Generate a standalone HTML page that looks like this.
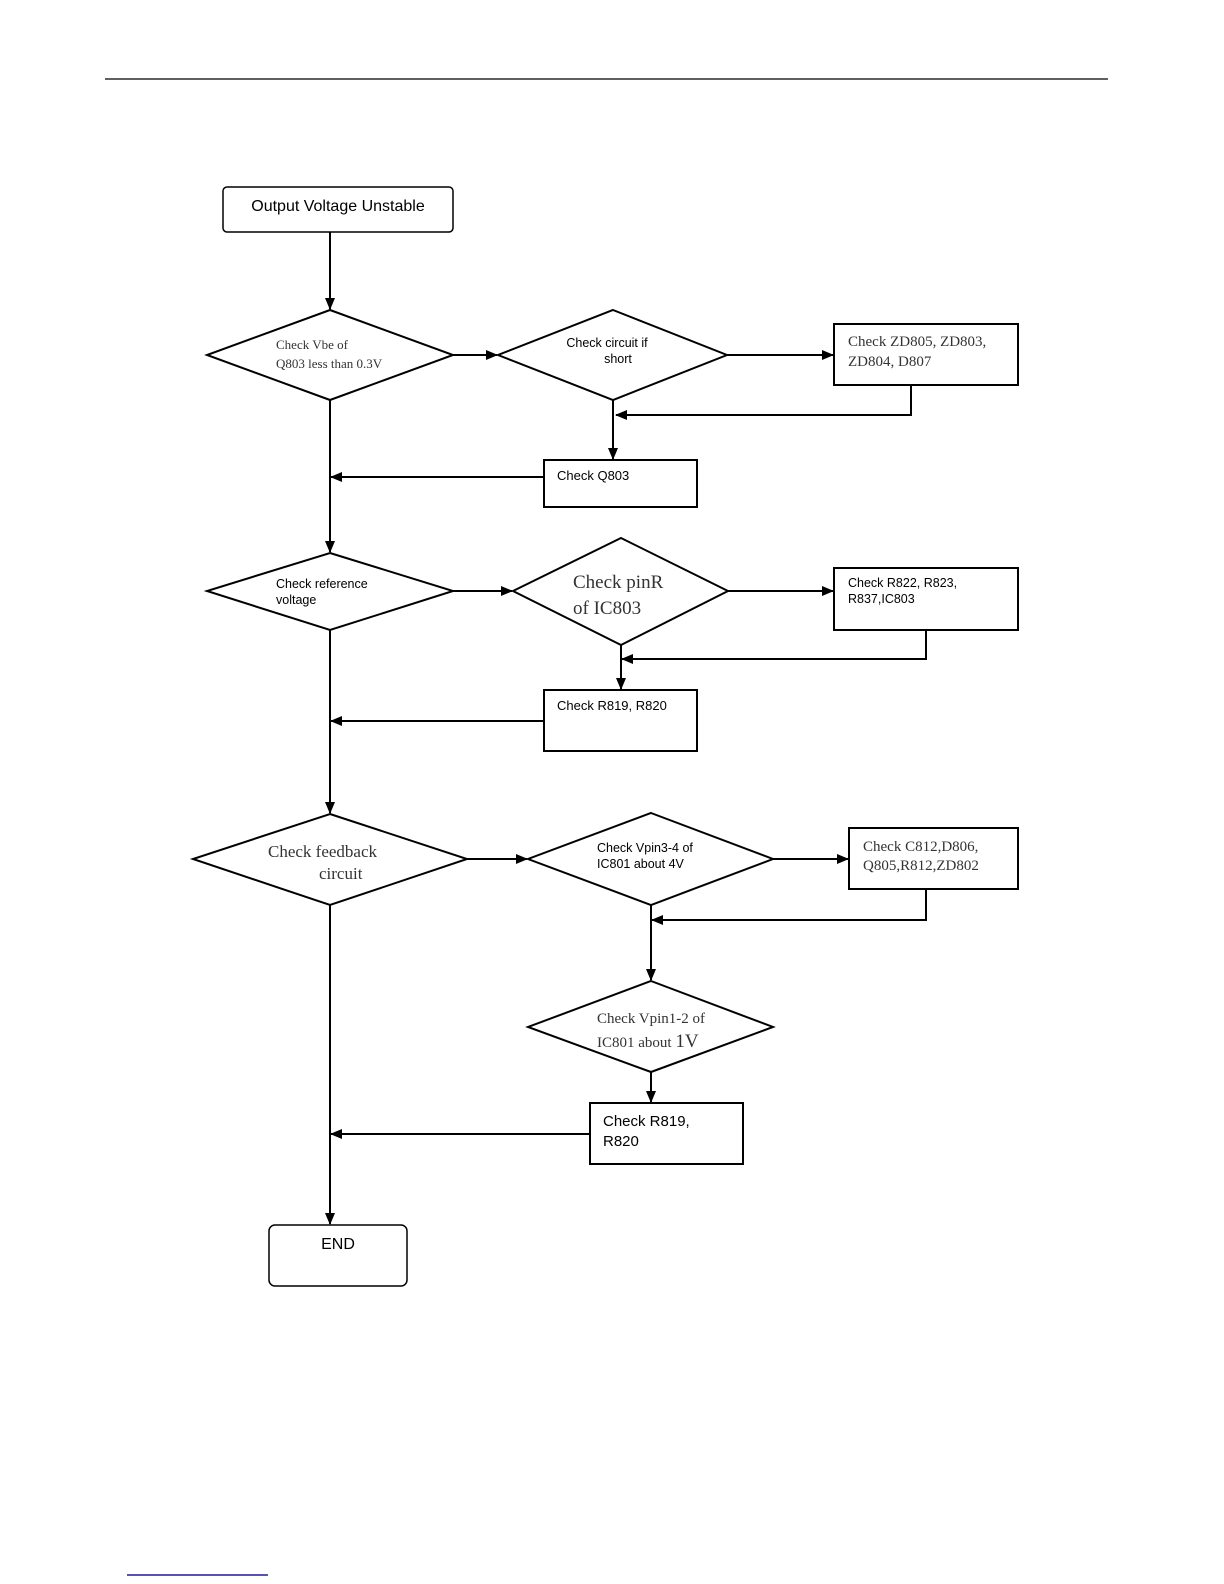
<!DOCTYPE html>
<html><head><meta charset="utf-8"><style>
html,body{margin:0;padding:0;background:#fff;}
svg{display:block;}
.s{font-family:"Liberation Sans",sans-serif;fill:#000;}
.r{font-family:"Liberation Serif",serif;fill:#333;}
</style></head><body>
<svg width="1224" height="1584" viewBox="0 0 1224 1584" xmlns="http://www.w3.org/2000/svg">
<defs><marker id="a" markerWidth="12" markerHeight="10" refX="11" refY="5" orient="auto" markerUnits="userSpaceOnUse"><path d="M0,0 L12,5 L0,10 z" fill="#000"/></marker></defs>
<line x1="105" y1="79" x2="1108" y2="79" stroke="#000" stroke-width="1.2"/>
<line x1="127" y1="1575" x2="268" y2="1575" stroke="#1a1aa0" stroke-width="1.5"/>
<g fill="none" stroke="#000" stroke-width="2">
<rect x="223" y="187" width="230" height="45" rx="4" stroke-width="1.5"/>
<line x1="330" y1="232" x2="330" y2="309" marker-end="url(#a)"/>
<polygon points="330,310 453,355 330,400 207,355"/>
<line x1="453" y1="355" x2="497" y2="355" marker-end="url(#a)"/>
<polygon points="613,310 727,355 613,400 498,355"/>
<line x1="727" y1="355" x2="833" y2="355" marker-end="url(#a)"/>
<rect x="834" y="324" width="184" height="61"/>
<polyline points="911,385 911,415 616,415" marker-end="url(#a)"/>
<line x1="613" y1="400" x2="613" y2="459" marker-end="url(#a)"/>
<rect x="544" y="460" width="153" height="47"/>
<line x1="544" y1="477" x2="331" y2="477" marker-end="url(#a)"/>
<line x1="330" y1="400" x2="330" y2="552" marker-end="url(#a)"/>
<polygon points="330,553 453,591 330,630 207,591"/>
<line x1="453" y1="591" x2="512" y2="591" marker-end="url(#a)"/>
<polygon points="621,538 728,591 621,645 513,591"/>
<line x1="728" y1="591" x2="833" y2="591" marker-end="url(#a)"/>
<rect x="834" y="568" width="184" height="62"/>
<polyline points="926,630 926,659 622,659" marker-end="url(#a)"/>
<line x1="621" y1="645" x2="621" y2="689" marker-end="url(#a)"/>
<rect x="544" y="690" width="153" height="61"/>
<line x1="544" y1="721" x2="331" y2="721" marker-end="url(#a)"/>
<line x1="330" y1="630" x2="330" y2="813" marker-end="url(#a)"/>
<polygon points="330,814 467,859 330,905 193,859"/>
<line x1="467" y1="859" x2="527" y2="859" marker-end="url(#a)"/>
<polygon points="651,813 773,859 651,905 528,859"/>
<line x1="773" y1="859" x2="848" y2="859" marker-end="url(#a)"/>
<rect x="849" y="828" width="169" height="61"/>
<polyline points="926,889 926,920 652,920" marker-end="url(#a)"/>
<line x1="651" y1="905" x2="651" y2="980" marker-end="url(#a)"/>
<polygon points="651,981 773,1027 651,1072 528,1027"/>
<line x1="651" y1="1072" x2="651" y2="1102" marker-end="url(#a)"/>
<rect x="590" y="1103" width="153" height="61"/>
<line x1="590" y1="1134" x2="331" y2="1134" marker-end="url(#a)"/>
<line x1="330" y1="905" x2="330" y2="1224" marker-end="url(#a)"/>
<rect x="269" y="1225" width="138" height="61" rx="6" stroke-width="1.5"/>
</g>
<text class="s" x="338" y="211" font-size="16" text-anchor="middle">Output Voltage Unstable</text>
<text class="r" x="276" y="349" font-size="13">Check Vbe of</text>
<text class="r" x="276" y="368" font-size="13">Q803 less than 0.3V</text>
<text class="s" x="607" y="347" font-size="12.5" text-anchor="middle">Check circuit if</text>
<text class="s" x="618" y="363" font-size="12.5" text-anchor="middle">short</text>
<text class="r" x="848" y="346" font-size="15">Check ZD805, ZD803,</text>
<text class="r" x="848" y="366" font-size="15">ZD804, D807</text>
<text class="s" x="557" y="480" font-size="13">Check Q803</text>
<text class="s" x="276" y="588" font-size="12.5">Check reference</text>
<text class="s" x="276" y="604" font-size="12.5">voltage</text>
<text class="r" x="573" y="588" font-size="19">Check pinR</text>
<text class="r" x="573" y="614" font-size="19">of IC803</text>
<text class="s" x="848" y="587" font-size="12.5">Check R822, R823,</text>
<text class="s" x="848" y="603" font-size="12.5">R837,IC803</text>
<text class="s" x="557" y="710" font-size="13">Check R819, R820</text>
<text class="r" x="268" y="857" font-size="17">Check feedback</text>
<text class="r" x="319" y="879" font-size="17">circuit</text>
<text class="s" x="597" y="852" font-size="12.5">Check Vpin3-4 of</text>
<text class="s" x="597" y="868" font-size="12.5">IC801 about 4V</text>
<text class="r" x="863" y="851" font-size="15">Check C812,D806,</text>
<text class="r" x="863" y="870" font-size="15">Q805,R812,ZD802</text>
<text class="r" x="597" y="1023" font-size="15">Check Vpin1-2 of</text>
<text class="r" x="597" y="1047" font-size="15">IC801 about <tspan font-size="19">1V</tspan></text>
<text class="s" x="603" y="1126" font-size="15">Check R819,</text>
<text class="s" x="603" y="1146" font-size="15">R820</text>
<text class="s" x="338" y="1249" font-size="16" text-anchor="middle">END</text>
</svg>
</body></html>
